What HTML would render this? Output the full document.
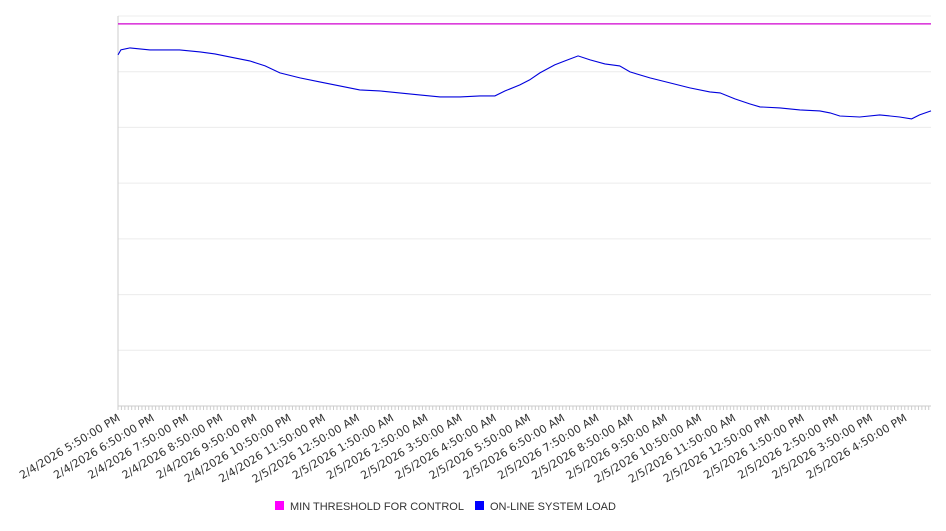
<!DOCTYPE html>
<html><head><meta charset="utf-8"><style>
body{margin:0;background:#fff;font-family:"Liberation Sans","DejaVu Sans",sans-serif}
</style></head><body>
<svg id="c" width="946" height="526" xmlns="http://www.w3.org/2000/svg"></svg>
<script>
const minutes=[-5,0,16,51,103,139,165,191,226,253,279,314,349,384,419,454,489,524,560,595,630,656,674,700,717,735,761,779,802,823,849,875,893,928,963,998,1033,1051,1077,1103,1121,1156,1191,1226,1244,1261,1296,1331,1366,1387,1401,1421];
const loadValues=[6302,6391,6427,6391,6391,6355,6320,6266,6194,6104,5978,5889,5817,5745,5673,5655,5619,5583,5548,5548,5566,5566,5655,5763,5853,5978,6122,6194,6284,6212,6140,6104,5996,5889,5799,5709,5637,5619,5512,5422,5368,5350,5314,5296,5260,5206,5188,5224,5188,5153,5224,5296];
const thresholdValue=6858;
const yTicks=[0,1000,2000,3000,4000,5000,6000,7000];
const tickLabels=["2/4/2026 5:50:00 PM","2/4/2026 6:50:00 PM","2/4/2026 7:50:00 PM","2/4/2026 8:50:00 PM","2/4/2026 9:50:00 PM","2/4/2026 10:50:00 PM","2/4/2026 11:50:00 PM","2/5/2026 12:50:00 AM","2/5/2026 1:50:00 AM","2/5/2026 2:50:00 AM","2/5/2026 3:50:00 AM","2/5/2026 4:50:00 AM","2/5/2026 5:50:00 AM","2/5/2026 6:50:00 AM","2/5/2026 7:50:00 AM","2/5/2026 8:50:00 AM","2/5/2026 9:50:00 AM","2/5/2026 10:50:00 AM","2/5/2026 11:50:00 AM","2/5/2026 12:50:00 PM","2/5/2026 1:50:00 PM","2/5/2026 2:50:00 PM","2/5/2026 3:50:00 PM","2/5/2026 4:50:00 PM"];
const NS="http://www.w3.org/2000/svg",svg=document.getElementById('c');
const L=118,R=931,T=16,B=406,xMin=-5,xMax=1421;
const x=m=>L+(m-xMin)/(xMax-xMin)*(R-L);
const y=v=>B-v/7000*(B-T);
function mk(t,a,p){const e=document.createElementNS(NS,t);for(const k in a)e.setAttribute(k,a[k]);(p||svg).appendChild(e);return e;}
yTicks.forEach(v=>{const g=mk('line',{x1:L,x2:R,y1:y(v),y2:y(v),stroke:'#ececec','stroke-width':1});

});
const ax=mk('line',{x1:L,x2:L,y1:T,y2:B,stroke:'#ccc'});


const bx=mk('line',{x1:L,x2:R,y1:B,y2:B,stroke:'#ccc'});


for(let m=xMin;m<=xMax;m+=6){const t=mk('line',{x1:x(m),x2:x(m),y1:B,y2:B+4,stroke:'#ccc'});

}
tickLabels.forEach((s,i)=>{const px=x(i*60);const t=mk('text',{x:px,y:B+14,'font-size':11,'font-family':'"DejaVu Sans",sans-serif',fill:'#333','text-anchor':'end',transform:`rotate(-31 ${px} ${B+14})`});t.textContent=s;

});
const th=mk('line',{x1:L,x2:R,y1:y(thresholdValue),y2:y(thresholdValue),stroke:'#d000d0','stroke-width':1.2});


const d=minutes.map((m,i)=>(i?'L':'M')+x(m).toFixed(1)+','+y(loadValues[i]).toFixed(1)).join(' ');
const ln=mk('path',{d:d,fill:'none',stroke:'#0000dd','stroke-width':1.1});


const lg=mk('g',{});


[[275,'#ff00ff','MIN THRESHOLD FOR CONTROL'],[475,'#0000ff','ON-LINE SYSTEM LOAD']].forEach(([lx,c,s])=>{
const r=mk('rect',{x:lx,y:501,width:9,height:9,fill:c},lg);


const t=mk('text',{x:lx+15,y:510,'font-size':11,fill:'#333'},lg);t.textContent=s;

});
</script></body></html>
